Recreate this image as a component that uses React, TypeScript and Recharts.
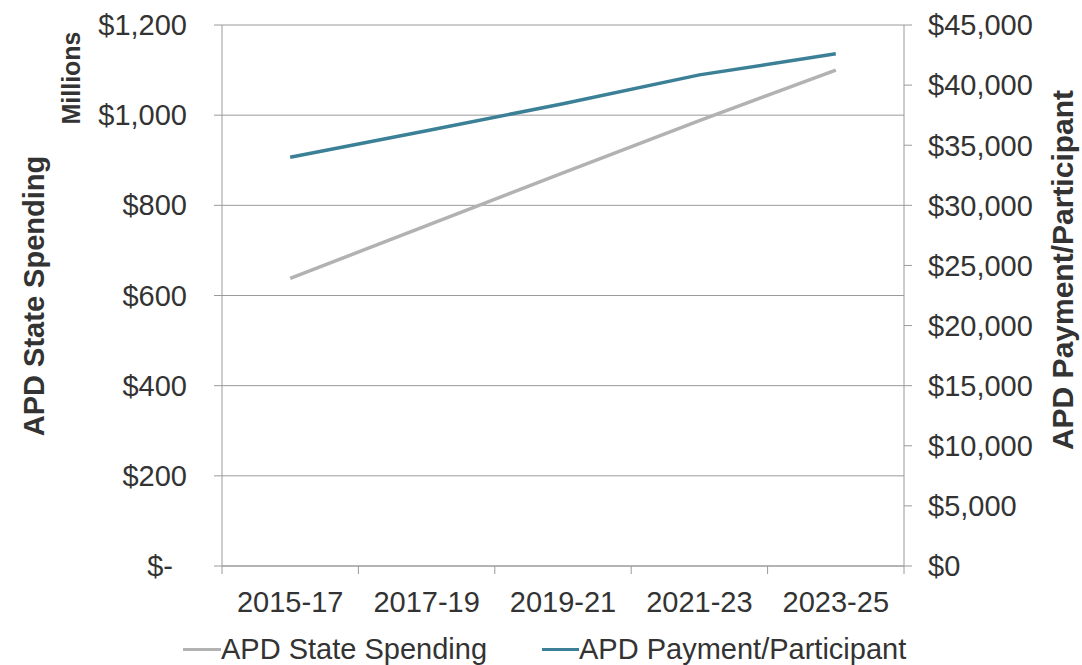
import React from "react";
import { LineChart, Line, XAxis, YAxis, CartesianGrid } from "recharts";

// ─── Data ────────────────────────────────────────────────────────
const biennia = ["2015-17", "2017-19", "2019-21", "2021-23", "2023-25"];
const stateSpending = [638, 755, 872, 988, 1100]; // $ millions
const paymentPerParticipant = [34000, 36200, 38450, 40850, 42600];
const leftTicks = [0, 200, 400, 600, 800, 1000, 1200];
const rightTicks = [0, 5000, 10000, 15000, 20000, 25000, 30000, 35000, 40000, 45000];

const GRAY = "#b2b2b2";
const BLUE = "#3b8096";
const AXIS = "#9a9a9a";
const TEXT = "#333333";
const FONT = "'Liberation Sans', Arial, sans-serif";
const FS = 29;
const HALF_BAND = 68.2; // half a category slot, for the boundary tick marks

const rows = biennia.map((b, i) => ({
  period: b,
  spending: stateSpending[i],
  payment: paymentPerParticipant[i],
}));

const money = (v: number) => (v === 0 ? "$-" : `$${v.toLocaleString("en-US")}`);

const LeftTick = ({ x, y, payload }: any) => (
  <text
    x={x - (payload.value === 0 ? 41 : 27)}
    y={y}
    textAnchor="end"
    dominantBaseline="central"
    fill={TEXT}
    fontSize={FS}
    fontFamily={FONT}
  >
    {money(payload.value)}
  </text>
);

// category label plus Excel-style tick marks on the slot boundaries
const BottomTick = ({ x, y, payload, index }: any) => (
  <g>
    <line x1={x - HALF_BAND} x2={x - HALF_BAND} y1={y} y2={y + 8} stroke={AXIS} />
    {index === biennia.length - 1 && (
      <line x1={x + HALF_BAND} x2={x + HALF_BAND} y1={y} y2={y + 8} stroke={AXIS} />
    )}
    <text x={x} y={y + 46} textAnchor="middle" fill={TEXT} fontSize={FS} fontFamily={FONT}>
      {payload.value}
    </text>
  </g>
);

export default function App() {
  return (
    <div style={{ position: "absolute", left: 0, top: 0, width: 1082, height: 665, background: "#fff", fontFamily: FONT }}>
      <LineChart width={1082} height={665} data={rows} margin={{ top: 25, right: 0, left: 0, bottom: 41 }}>
        <CartesianGrid vertical={false} stroke={AXIS} strokeWidth={1} yAxisId="left" />
        <XAxis
          dataKey="period"
          height={58}
          padding={{ left: HALF_BAND, right: HALF_BAND }}
          tickLine={false}
          tickSize={0}
          tickMargin={0}
          interval={0}
          tick={<BottomTick />}
          stroke={AXIS}
        />
        <YAxis
          yAxisId="left"
          width={222}
          domain={[0, 1200]}
          ticks={leftTicks}
          tickSize={8}
          tickMargin={0}
          tick={<LeftTick />}
          stroke={AXIS}
        />
        <YAxis
          yAxisId="right"
          orientation="right"
          width={178}
          domain={[0, 45000]}
          ticks={rightTicks}
          tickSize={8}
          tickMargin={16}
          tickFormatter={(v: number) => `$${v.toLocaleString("en-US")}`}
          tick={{ fontSize: FS, fill: TEXT, fontFamily: FONT }}
          stroke={AXIS}
        />
        <Line
          yAxisId="left"
          dataKey="spending"
          stroke={GRAY}
          strokeWidth={3.5}
          dot={false}
          isAnimationActive={false}
        />
        <Line
          yAxisId="right"
          dataKey="payment"
          stroke={BLUE}
          strokeWidth={3.5}
          dot={false}
          isAnimationActive={false}
        />
      </LineChart>

      {/* axis titles */}
      <div
        style={{
          position: "absolute", left: 34, top: 296, transform: "translate(-50%, -50%) rotate(-90deg)",
          whiteSpace: "nowrap", fontWeight: 700, fontSize: 29, color: TEXT, lineHeight: 1,
        }}
      >
        APD State Spending
      </div>
      <div
        style={{
          position: "absolute", left: 71, top: 78, transform: "translate(-50%, -50%) rotate(-90deg)",
          whiteSpace: "nowrap", fontWeight: 700, fontSize: 25, color: TEXT, lineHeight: 1,
        }}
      >
        Millions
      </div>
      <div
        style={{
          position: "absolute", left: 1063, top: 270, transform: "translate(-50%, -50%) rotate(-90deg)",
          whiteSpace: "nowrap", fontWeight: 700, fontSize: 30, color: TEXT, lineHeight: 1,
        }}
      >
        APD Payment/Participant
      </div>

      {/* legend */}
      <div
        style={{
          position: "absolute", left: 183, top: 634, height: 30, display: "flex", alignItems: "center",
          fontSize: FS, color: TEXT, whiteSpace: "nowrap", lineHeight: 1,
        }}
      >
        <span style={{ display: "inline-block", width: 38, height: 3, background: GRAY }} />
        <span>APD State Spending</span>
        <span style={{ display: "inline-block", width: 37, height: 3, background: BLUE, marginLeft: 55 }} />
        <span>APD Payment/Participant</span>
      </div>
    </div>
  );
}
